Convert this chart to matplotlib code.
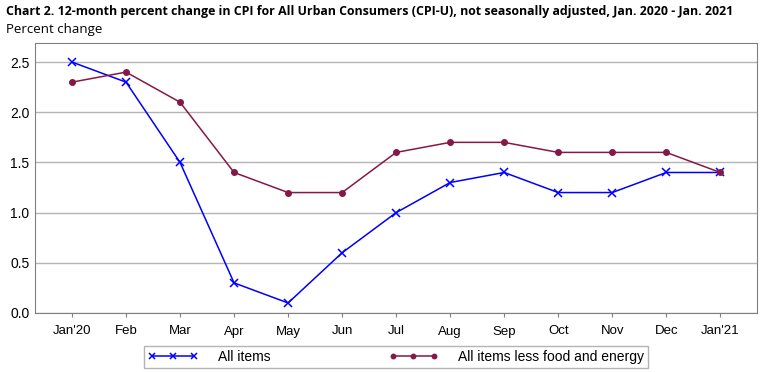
import matplotlib.pyplot as plt
import numpy as np

months = ["Jan'20", "Feb", "Mar", "Apr", "May", "Jun", "Jul", "Aug", "Sep", "Oct", "Nov", "Dec", "Jan'21"]
all_items = [2.5, 2.3, 1.5, 0.3, 0.1, 0.6, 1.0, 1.3, 1.4, 1.2, 1.2, 1.4, 1.4]
core = [2.3, 2.4, 2.1, 1.4, 1.2, 1.2, 1.6, 1.7, 1.7, 1.6, 1.6, 1.6, 1.4]

plt.rcParams['font.family'] = ['Liberation Sans', 'DejaVu Sans']
fig = plt.figure(figsize=(7.6, 3.72), dpi=100)
ax = fig.add_axes([35/760, 1 - 313/372, (757-35)/760, (313-43)/372])

x = np.arange(len(months))
ax.plot(x, all_items, color='#0000FF', lw=1.1, marker='x', ms=6, mew=1.1, label='All items', zorder=3)
ax.plot(x, core, color='#861848', lw=1.1, marker='o', ms=4, label='All items less food and energy', zorder=3)

ax.set_xlim(-0.685, 12.68)
ax.set_ylim(0, 2.69)
ax.set_yticks([0, 0.5, 1.0, 1.5, 2.0, 2.5])
ax.set_yticklabels(['0.0', '0.5', '1.0', '1.5', '2.0', '2.5'])
ax.set_xticks(x)
ax.set_xticklabels(months)
ax.grid(axis='y', color='#b4b4b4', lw=1)
ax.set_axisbelow(True)
for s in ax.spines.values():
    s.set_color('#808080')
ax.tick_params(axis='x', length=3, color='#808080', labelsize=9.5, pad=6)
ax.tick_params(axis='y', length=0, labelsize=10, pad=4)

title = fig.text(6/760, 1 - 12/372, "Chart 2. 12-month percent change in CPI for All Urban Consumers (CPI-U), not seasonally adjusted, Jan. 2020 - Jan. 2021",
                 fontsize=9.5, fontweight='bold', va='center', family=['Open Sans', 'DejaVu Sans'])
fig.text(6/760, 1 - 29/372, "Percent change", fontsize=9.5, va='center', family=['Open Sans', 'DejaVu Sans'])

# shrink title to the reference width
fig.canvas.draw()
w = title.get_window_extent().width
title.set_fontsize(9.5 * 736 / w)

leg = fig.legend(loc='center', bbox_to_anchor=(396/760, 1 - 357/372), ncol=2, frameon=True,
                 fontsize=10, fancybox=False, edgecolor='#a0a0a0', columnspacing=8.5,
                 handlelength=3.6, numpoints=3, markerscale=0.8, borderpad=0.3, handletextpad=1.4)
leg.get_frame().set_linewidth(1)

fig.savefig('out.png', dpi=100)
